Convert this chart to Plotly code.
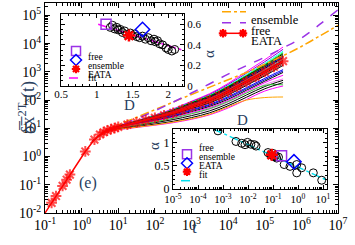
import numpy as np
import plotly.graph_objects as go

# ---------------- main panel data (log10 values) ----------------
eata_log_t = [-1.0, -0.82, -0.7, -0.52, -0.41, -0.32, 0.1, 0.35, 0.5, 0.6, 0.7, 0.8, 0.9, 1.0,
              1.25, 1.5, 1.75, 2.0, 2.25, 2.5, 2.75, 3.0, 3.25, 3.5, 3.75, 4.0, 4.25, 4.5,
              4.75, 5.0, 5.25, 5.5]
eata_log_msd = [-2.0, -1.64, -1.40, -1.04, -0.82, -0.64, 0.18, 0.60, 0.78, 0.86, 0.92, 0.97, 1.01,
                1.05, 1.13, 1.21, 1.29, 1.37, 1.46, 1.55, 1.66, 1.78, 1.89, 2.00, 2.14, 2.30,
                2.47, 2.65, 2.82, 3.00, 3.18, 3.38]

ref_log_t = [0.7, 1.0, 1.5, 2.0, 2.5, 3.0, 3.5, 4.0, 4.5, 5.0, 5.5, 6.0, 6.5, 7.0]
free_log_msd = [0.93, 1.08, 1.34, 1.62, 1.93, 2.25, 2.58, 2.92, 3.22, 3.52, 3.85, 4.20, 4.68, 5.20]
ens_log_msd = [0.95, 1.12, 1.39, 1.66, 1.93, 2.20, 2.46, 2.72, 2.98, 3.27, 3.57, 3.90, 4.27, 4.65]

traj_log_t = [0.3, 0.7, 1.0, 1.5, 2.0, 2.5, 3.0, 3.5, 4.0, 4.5, 5.0, 5.5]
traj_log_msd = [
    [0.55, 0.93, 1.08, 1.27, 1.47, 1.69, 1.96, 2.23, 2.59, 3.01, 3.43, 3.88],
    [0.55, 0.93, 1.08, 1.26, 1.46, 1.67, 1.94, 2.20, 2.55, 2.95, 3.36, 3.80],
    [0.55, 0.93, 1.07, 1.26, 1.45, 1.66, 1.92, 2.17, 2.51, 2.90, 3.30, 3.73],
    [0.55, 0.93, 1.07, 1.25, 1.44, 1.65, 1.91, 2.16, 2.49, 2.87, 3.26, 3.68],
    [0.55, 0.93, 1.07, 1.25, 1.43, 1.64, 1.90, 2.14, 2.47, 2.85, 3.23, 3.64],
    [0.55, 0.93, 1.07, 1.24, 1.42, 1.62, 1.88, 2.12, 2.45, 2.83, 3.20, 3.60],
    [0.55, 0.92, 1.06, 1.24, 1.41, 1.61, 1.86, 2.10, 2.43, 2.80, 3.17, 3.56],
    [0.55, 0.92, 1.06, 1.23, 1.41, 1.60, 1.85, 2.08, 2.40, 2.77, 3.14, 3.53],
    [0.55, 0.92, 1.06, 1.23, 1.40, 1.59, 1.84, 2.07, 2.39, 2.75, 3.12, 3.50],
    [0.55, 0.92, 1.05, 1.22, 1.39, 1.58, 1.83, 2.06, 2.37, 2.73, 3.09, 3.47],
    [0.55, 0.92, 1.05, 1.22, 1.39, 1.57, 1.81, 2.04, 2.35, 2.70, 3.06, 3.44],
    [0.55, 0.92, 1.05, 1.21, 1.38, 1.56, 1.80, 2.02, 2.33, 2.68, 3.03, 3.41],
    [0.55, 0.92, 1.05, 1.21, 1.37, 1.55, 1.78, 2.00, 2.30, 2.65, 3.00, 3.38],
    [0.55, 0.92, 1.05, 1.20, 1.36, 1.53, 1.75, 1.97, 2.26, 2.61, 2.95, 3.33],
    [0.55, 0.92, 1.04, 1.19, 1.34, 1.51, 1.72, 1.93, 2.22, 2.56, 2.90, 3.28],
    [0.55, 0.91, 1.04, 1.18, 1.33, 1.49, 1.70, 1.90, 2.18, 2.52, 2.86, 3.23],
    [0.55, 0.91, 1.03, 1.17, 1.31, 1.46, 1.66, 1.85, 2.12, 2.44, 2.77, 3.08],
    [0.55, 0.91, 1.03, 1.16, 1.29, 1.44, 1.63, 1.82, 2.08, 2.40, 2.72, 3.03],
    [0.55, 0.91, 1.02, 1.15, 1.27, 1.41, 1.59, 1.78, 2.03, 2.35, 2.67, 2.98],
    [0.55, 0.91, 1.02, 1.14, 1.26, 1.39, 1.56, 1.74, 1.99, 2.30, 2.62, 2.88],
    [0.55, 0.90, 1.00, 1.12, 1.23, 1.35, 1.51, 1.68, 1.93, 2.25, 2.55, 2.75],
    [0.55, 0.90, 0.99, 1.10, 1.20, 1.31, 1.45, 1.62, 1.87, 2.18, 2.48, 2.70],
    [0.55, 0.90, 1.00, 1.12, 1.23, 1.36, 1.52, 1.70, 1.95, 2.25, 2.52, 2.54],
    [0.55, 0.89, 0.97, 1.06, 1.15, 1.25, 1.38, 1.55, 1.80, 2.10, 2.40, 2.62],
    [0.55, 0.89, 0.95, 1.03, 1.11, 1.20, 1.32, 1.48, 1.72, 2.02, 2.32, 2.50],
    [0.55, 0.89, 0.96, 1.04, 1.12, 1.22, 1.34, 1.50, 1.76, 2.00, 2.09, 2.11],
]

main_x_ticks = [0.1, 1, 10, 100, 1e3, 1e4, 1e5, 1e6, 1e7]
main_x_labels = ['10<sup>-1</sup>', '10<sup>0</sup>', '10<sup>1</sup>', '10<sup>2</sup>',
                 '10<sup>3</sup>', '10<sup>4</sup>', '10<sup>5</sup>', '10<sup>6</sup>',
                 '10<sup>7</sup>']
main_y_ticks = [0.01, 0.1, 1, 10, 100, 1e3, 1e4, 1e5]
main_y_labels = ['10<sup>-2</sup>', '10<sup>-1</sup>', '10<sup>0</sup>', '10<sup>1</sup>',
                 '10<sup>2</sup>', '10<sup>3</sup>', '10<sup>4</sup>', '10<sup>5</sup>']

# ---------------- top inset: alpha vs D ----------------
top_D = [1.19, 1.22, 1.25, 1.28, 1.30, 1.33, 1.36, 1.39, 1.42, 1.47, 1.50, 1.53, 1.56, 1.60,
         1.64, 1.68, 1.72, 1.76, 1.80, 1.82, 1.85, 1.88, 1.92, 1.97, 2.00, 2.05, 2.09]
top_alpha = [0.57, 0.59, 0.555, 0.57, 0.545, 0.55, 0.52, 0.535, 0.50, 0.515, 0.49, 0.505, 0.48,
             0.47, 0.485, 0.455, 0.47, 0.44, 0.455, 0.43, 0.44, 0.41, 0.40, 0.37, 0.355, 0.34, 0.355]
top_free = (1.13, 0.60)
top_ens = (1.64, 0.55)
top_eata = (1.45, 0.49)
top_fit_D = [1.02, 2.22]
top_fit_alpha = [0.60, 0.345]

# ---------------- bottom inset: alpha vs K ----------------
bot_K = [6.3e-4, 3.3e-3, 5.6e-3, 7.6e-3, 9.5e-3, 1.3e-2, 1.8e-2, 2.1e-2, 6.3e-2, 7.9e-2, 0.10,
         0.11, 0.126, 0.14, 0.166, 0.28, 0.48, 0.89, 0.89, 1.4, 4.1, 8.9]
bot_alpha = [1.26, 1.03, 0.99, 0.96, 1.01, 0.97, 0.96, 0.93, 0.79, 0.74, 0.77, 0.70, 0.72, 0.67,
             0.69, 0.53, 0.49, 0.53, 0.35, 0.46, 0.35, 0.19]
bot_free = (0.22, 0.72)
bot_ens = (0.69, 0.59)
bot_eata = (0.089, 0.74)
bot_fit_K = [4.1e-4, 14.5]
bot_fit_alpha = [1.30, 0.19]
bot_x_ticks = [1e-5, 1e-4, 1e-3, 1e-2, 1e-1, 1, 10]
bot_x_labels = ['10<sup>-5</sup>', '10<sup>-4</sup>', '10<sup>-3</sup>', '10<sup>-2</sup>',
                '10<sup>-1</sup>', '10<sup>0</sup>', '10<sup>1</sup>']

traj_colors = ['#FF00FF', '#9400D3', '#00FFFF', '#00FF00', 'black', '#006400', 'black', '#0000FF',
               'black', '#B03060', '#40E0D0', 'black', '#4B0082', 'black', '#A52A2A', 'black',
               '#0000FF', '#0000CD', 'black', '#FF00FF', '#EE82EE', 'black', '#32CD32', 'black',
               '#FF00FF', '#FFA500']

FONT = 'Liberation Serif'
ORANGE = '#FFA500'
PURPLE = '#9A32E6'
RED = '#FF0000'
MAG = '#FF00FF'
CYAN = '#00E0F0'

pw = lambda v: np.power(10.0, np.asarray(v))

fig = go.Figure()

for ys, c in zip(traj_log_msd, traj_colors):
    fig.add_trace(go.Scatter(x=pw(traj_log_t), y=pw(ys), mode='lines',
                             line=dict(color=c, width=1, shape='spline'),
                             showlegend=False, hoverinfo='skip'))

fig.add_trace(go.Scatter(x=pw(ref_log_t), y=pw(ens_log_msd), mode='lines', name='ensemble',
                         line=dict(color=ORANGE, width=1.5, dash='dashdot', shape='spline'),
                         showlegend=False))
fig.add_trace(go.Scatter(x=pw(ref_log_t), y=pw(free_log_msd), mode='lines', name='free',
                         line=dict(color=PURPLE, width=1.5, dash='dash', shape='spline'),
                         showlegend=False))
msizes = [0] + [9] * (len(eata_log_t) - 1)
fig.add_trace(go.Scatter(x=pw(eata_log_t), y=pw(eata_log_msd), mode='lines+markers', name='EATA',
                         line=dict(color=RED, width=1.5),
                         marker=dict(symbol='asterisk-open', size=msizes, color=RED,
                                     line=dict(color=RED, width=2)),
                         showlegend=False))

# top inset
fig.add_trace(go.Scatter(x=top_fit_D, y=top_fit_alpha, xaxis='x2', yaxis='y2', mode='lines',
                         line=dict(color=MAG, width=1.5, dash='dashdot'), showlegend=False))
fig.add_trace(go.Scatter(x=top_D, y=top_alpha, xaxis='x2', yaxis='y2', mode='markers',
                         marker=dict(symbol='circle-open', size=8, color='black',
                                     line=dict(width=1)), showlegend=False))
fig.add_trace(go.Scatter(x=[top_free[0]], y=[top_free[1]], xaxis='x2', yaxis='y2', mode='markers',
                         marker=dict(symbol='square-open', size=10, color=PURPLE,
                                     line=dict(width=1.5)), showlegend=False))
fig.add_trace(go.Scatter(x=[top_ens[0]], y=[top_ens[1]], xaxis='x2', yaxis='y2', mode='markers',
                         marker=dict(symbol='diamond-open', size=11, color='#0000FF',
                                     line=dict(width=1.5)), showlegend=False))
fig.add_trace(go.Scatter(x=[top_eata[0]], y=[top_eata[1]], xaxis='x2', yaxis='y2', mode='markers',
                         marker=dict(symbol='asterisk-open', size=10, color=RED,
                                     line=dict(width=2.5, color=RED)), showlegend=False))

# bottom inset
fig.add_trace(go.Scatter(x=bot_fit_K, y=bot_fit_alpha, xaxis='x3', yaxis='y3', mode='lines',
                         line=dict(color=CYAN, width=1.5, dash='dashdot'), showlegend=False))
fig.add_trace(go.Scatter(x=bot_K, y=bot_alpha, xaxis='x3', yaxis='y3', mode='markers',
                         marker=dict(symbol='circle-open', size=8, color='black',
                                     line=dict(width=1)), showlegend=False))
fig.add_trace(go.Scatter(x=[bot_free[0]], y=[bot_free[1]], xaxis='x3', yaxis='y3', mode='markers',
                         marker=dict(symbol='square-open', size=10, color=PURPLE,
                                     line=dict(width=1.5)), showlegend=False))
fig.add_trace(go.Scatter(x=[bot_ens[0]], y=[bot_ens[1]], xaxis='x3', yaxis='y3', mode='markers',
                         marker=dict(symbol='diamond-open', size=11, color='#0000FF',
                                     line=dict(width=1.5)), showlegend=False))
fig.add_trace(go.Scatter(x=[bot_eata[0]], y=[bot_eata[1]], xaxis='x3', yaxis='y3', mode='markers',
                         marker=dict(symbol='asterisk-open', size=10, color=RED,
                                     line=dict(width=2.5, color=RED)), showlegend=False))

# ---------------- layout ----------------
W, H = 355, 245
ML, MR, MT, MB = 45, 17, 3, 32
PW, PH = W - ML - MR, H - MT - MB


def px(xp):
    return (xp - ML) / PW


def py(yp):
    return (H - MB - yp) / PH


def axis_style(size, **kw):
    d = dict(showline=True, linecolor='black', linewidth=1.2, ticks='inside',
             tickcolor='black', mirror='allticks', showgrid=False, zeroline=False,
             automargin=False, tickangle=0,
             tickfont=dict(family=FONT, size=size, color='black'))
    d.update(kw)
    return d


fig.update_layout(
    width=W, height=H, margin=dict(l=ML, r=MR, t=MT, b=MB, autoexpand=False),
    paper_bgcolor='white', plot_bgcolor='white', showlegend=False,
    xaxis=axis_style(14, type='log', range=[-1, 7], tickvals=main_x_ticks,
                     ticktext=main_x_labels, ticklen=5, ticklabelstandoff=-1,
                     minor=dict(ticks='inside', ticklen=2.5, tickcolor='black',
                                tickvals=[m * 10.0 ** e for e in range(-1, 7) for m in range(2, 10)])),
    yaxis=axis_style(14, type='log', range=[-2, 5.44], tickvals=main_y_ticks,
                     ticktext=main_y_labels, ticklen=5,
                     minor=dict(ticks='inside', ticklen=2.5, tickcolor='black',
                                tickvals=[m * 10.0 ** e for e in range(-2, 6) for m in range(2, 10)])),
    xaxis2=axis_style(11, domain=[px(61), px(184)], anchor='y2', range=[0.5, 2.22],
                      tickvals=[0.5, 1, 1.5, 2], ticktext=['0.5', '1', '1.5', '2'], ticklen=4,
                      ticklabelstandoff=-2,
                      minor=dict(dtick=0.1, ticks='inside', ticklen=2, tickcolor='black')),
    yaxis2=axis_style(11, domain=[py(86), py(14)], anchor='x2', side='right', range=[0, 0.7],
                      tickvals=[0, 0.2, 0.4, 0.6], ticktext=['0', '0.2', '0.4', '0.6'], ticklen=4,
                      minor=dict(dtick=0.05, ticks='inside', ticklen=2, tickcolor='black')),
    xaxis3=axis_style(11, domain=[px(173), px(327)], anchor='y3', type='log', range=[-5, 1.16],
                      tickvals=bot_x_ticks, ticktext=bot_x_labels, ticklen=4,
                      minor=dict(ticks='inside', ticklen=2, tickcolor='black',
                                 tickvals=[m * 10.0 ** e for e in range(-5, 2) for m in range(2, 10)])),
    yaxis3=axis_style(12, domain=[py(189), py(129)], anchor='x3', range=[0, 1.3],
                      tickvals=[0, 0.5, 1], ticktext=['0', '0.5', '1'], ticklen=4,
                      minor=dict(dtick=0.1, ticks='inside', ticklen=2, tickcolor='black')),
)

ann = []
ann.append(dict(x=px(194), y=py(239), text='t', font=dict(family=FONT, size=17)))
ann.append(dict(x=px(13), y=0.5, textangle=-90,
                text='δ\u0305x\u0305<sup>2</sup><sup>T<sub>x</sub></sup>(t)',
                font=dict(family=FONT, size=18)))
ann.append(dict(x=px(77), y=py(194), text='(e)', font=dict(family=FONT, size=16)))
ann.append(dict(x=px(122), y=py(105), text='D', font=dict(family=FONT, size=15)))
ann.append(dict(x=px(209), y=py(48), text='α', textangle=-90, font=dict(family=FONT, size=15)))
ann.append(dict(x=px(250), y=py(120), text='D', font=dict(family=FONT, size=15)))
ann.append(dict(x=px(154), y=py(152), text='α', textangle=-90, font=dict(family=FONT, size=15)))

shapes = []


def legend_line(x0, x1, y, color, dash, width=1.5):
    shapes.append(dict(type='line', xref='paper', yref='paper', x0=px(x0), x1=px(x1),
                       y0=py(y), y1=py(y), line=dict(color=color, dash=dash, width=width)))


def legend_text(x, y, text, size):
    ann.append(dict(x=px(x), y=py(y), text=text, xanchor='left', borderpad=0,
                    font=dict(family=FONT, size=size, color='black')))


def sym_square(x, y, color, h=4.5):
    shapes.append(dict(type='rect', xref='paper', yref='paper', xsizemode='pixel',
                       ysizemode='pixel', xanchor=px(x), yanchor=py(y), x0=-h, x1=h, y0=-h,
                       y1=h, line=dict(color=color, width=1.5)))


def sym_diamond(x, y, color, h=5.5):
    shapes.append(dict(type='path', xref='paper', yref='paper', xsizemode='pixel',
                       ysizemode='pixel', xanchor=px(x), yanchor=py(y),
                       path=f'M0,{h} L{h},0 L0,{-h} L{-h},0 Z',
                       line=dict(color=color, width=1.5)))


def sym_star(x, y, color, h=4.2):
    d = h * 0.72
    shapes.append(dict(type='path', xref='paper', yref='paper', xsizemode='pixel',
                       ysizemode='pixel', xanchor=px(x), yanchor=py(y),
                       path=f'M{-h},0 L{h},0 M0,{-h} L0,{h} M{-d},{-d} L{d},{d} M{-d},{d} L{d},{-d}',
                       line=dict(color=color, width=2.2)))


# main legend
legend_line(222, 246, 11.7, ORANGE, 'dashdot')
legend_text(250, 11.7, 'ensemble', 12.5)
legend_line(222, 246, 22.7, PURPLE, 'dash')
legend_text(250, 22.7, 'free', 12.5)
legend_line(222, 246, 33.3, RED, 'solid')
sym_star(223, 33.3, RED)
sym_star(243, 33.3, RED)
legend_text(250, 33.3, 'EATA', 12.5)

# top inset legend
sym_square(76, 51, PURPLE)
legend_text(87, 51, 'free', 9.5)
sym_diamond(76, 60, '#0000FF')
legend_text(87, 60, 'ensemble', 9.5)
sym_star(76, 69, RED)
legend_text(87, 69, 'EATA', 9.5)
legend_line(69, 80, 78, MAG, 'dashdot')
legend_text(87, 78, 'fit', 9.5)

# bottom inset legend
sym_square(187, 154.3, PURPLE)
legend_text(198, 154.3, 'free', 9.5)
sym_diamond(187, 163.3, '#0000FF')
legend_text(198, 163.3, 'ensemble', 9.5)
sym_star(187, 171.7, RED)
legend_text(198, 171.7, 'EATA', 9.5)
legend_line(181, 193, 180.7, CYAN, 'dashdot')
legend_text(198, 180.7, 'fit', 9.5)

for a in ann:
    a.setdefault('xref', 'paper')
    a.setdefault('yref', 'paper')
    a.setdefault('showarrow', False)
fig.update_layout(annotations=ann, shapes=shapes)

fig.write_html('out.html', config={'displayModeBar': False},
               post_script="document.body.style.margin='0';document.body.style.padding='0';")
